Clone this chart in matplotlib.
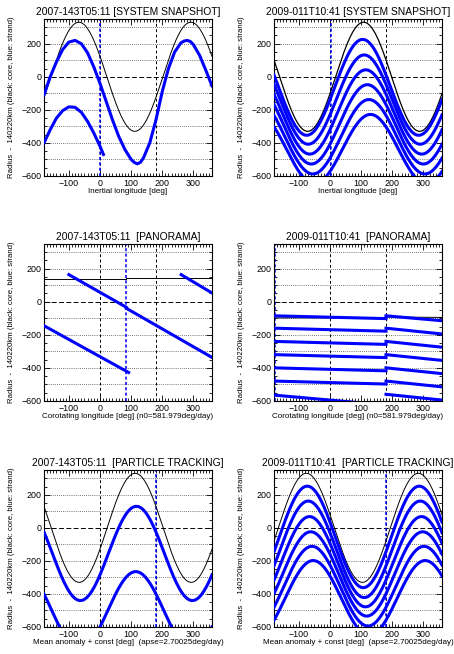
import numpy as np
import matplotlib
matplotlib.use('Agg')
import matplotlib.pyplot as plt
from matplotlib.ticker import MultipleLocator

plt.rcParams['font.family'] = ['Liberation Sans', 'DejaVu Sans']

XMIN, XMAX = -180, 360
YMIN, YMAX = -600, 350
BLUE = '#0000ff'

titles = ['2007-143T05:11 [SYSTEM SNAPSHOT]', '2009-011T10:41 [SYSTEM SNAPSHOT]',
          '2007-143T05:11  [PANORAMA]', '2009-011T10:41  [PANORAMA]',
          '2007-143T05:11  [PARTICLE TRACKING]', '2009-011T10:41  [PARTICLE TRACKING]']
xlabels = ['Inertial longitude [deg]', 'Inertial longitude [deg]',
           'Corotating longitude [deg] (n0=581.979deg/day)',
           'Corotating longitude [deg] (n0=581.979deg/day)',
           'Mean anomaly + const [deg]  (apse=2.70025deg/day)',
           'Mean anomaly + const [deg]  (apse=2.70025deg/day)']
ylabel = 'Radius  -  140220km (black: core, blue: strand)'

# blue dashed marker longitude per panel
marker_lon = [0, 3, 85, -177, 180, 180]

# --- system snapshot 2007: core epicycle (peak lon, peak, trough)
snap07_core = (-68, 330, -330)
# strand (lon, radius)
snap07_strand1_lon = [-180, -160, -140, -120, -100, -80, -60, -40, -20, 0, 20, 40, 60, 80,
                      100, 110, 120, 130, 140, 160, 180, 200, 220, 240, 260, 270, 280, 290,
                      300, 320, 340, 360]
snap07_strand1_r = [-110, 0, 90, 165, 210, 220, 200, 145, 60, -40, -150, -260, -360, -440,
                    -500, -518, -527, -518, -490, -400, -260, -90, 50, 150, 205, 216, 220, 214,
                    195, 130, 40, -55]
snap07_strand2_lon = [-180, -160, -140, -120, -100, -80, -60, -40, -20, 0, 11]
snap07_strand2_r = [-400, -320, -250, -205, -182, -185, -215, -270, -340, -420, -470]

# --- system snapshot 2009
snap09_core = (108, 330, -330)
snap09_peak_lon = [105, 110, 115, 120, 125, 130]
snap09_peak = [226, 132, 42, -48, -138, -228]
snap09_trough = [-354, -408, -468, -528, -588, -648]

# --- panorama 2007: segments (lon0, r0, lon1, r1)
pan07_core = [(-180, 138, 85, 138), (85, 145, 360, 145)]
pan07_strand = [(-100, 164, 85, -34), (85, -40, 360, -337),
                (-180, -145, 92, -428), (261, 164, 360, 53)]

# --- panorama 2009
pan09_core = [(-180, -98, 180, -96), (180, -92, 360, -95)]
pan09_start = [-85, -160, -240, -320, -400, -480, -565]
pan09_mid_left = [-102, -178, -258, -338, -418, -498, -625]
pan09_mid_right = [-85, -160, -240, -320, -400, -480, -560]
pan09_end = [-115, -195, -275, -355, -435, -515, -595]

# --- particle tracking 2007
track07_core = (113, 330, -330)
track07_peak_lon = [117, 115]
track07_peak = [130, -265]
track07_trough = [-440, -735]

# --- particle tracking 2009
track09_core = (-76, 330, -330)
track09_peak_lon = [-73, -70, -66, -62, -58, -54]
track09_peak = [252, 162, 68, -24, -112, -198]
track09_trough = [-362, -422, -478, -534, -594, -652]

lon = np.linspace(XMIN, XMAX, 1081)


def epicycle(peak_lon, peak, trough):
    mid = (peak + trough) / 2.0
    amp = (peak - trough) / 2.0
    return mid + amp * np.cos(np.radians(lon - peak_lon))


fig = plt.figure(figsize=(4.54, 6.54), dpi=100)
lefts = [44 / 454, 274 / 454]
bottoms = [0.731, 0.387, 0.0413]
W, H = 168 / 454, 157 / 654

axes = []
for r in range(3):
    for c in range(2):
        axes.append(fig.add_axes([lefts[c], bottoms[r], W, H]))

for i, ax in enumerate(axes):
    ax.set_xlim(XMIN, XMAX)
    ax.set_ylim(YMIN, YMAX)
    for g in [-500, -400, -300, -200, -100, 100, 200, 300]:
        ax.axhline(g, color='0.3', ls=(0, (1, 1.5)), lw=0.6, zorder=1)
    ax.axhline(0, color='k', ls=(0, (5, 2.5)), lw=0.7, zorder=1)
    ax.axvline(0, color='k', ls=(0, (3, 2.5)), lw=0.7, zorder=1)
    ax.axvline(180, color='k', ls=(0, (3, 2.5)), lw=0.7, zorder=1)
    ax.axvline(marker_lon[i], color=BLUE, ls=(0, (2, 1.5)), lw=1.1, zorder=2)

    ax.xaxis.set_major_locator(MultipleLocator(100))
    ax.xaxis.set_minor_locator(MultipleLocator(10))
    ax.yaxis.set_major_locator(MultipleLocator(200))
    ax.yaxis.set_minor_locator(MultipleLocator(50))
    ax.tick_params(which='both', direction='in', top=True, right=True,
                   labelsize=6.4, width=0.6, pad=2)
    ax.tick_params(which='major', length=4)
    ax.tick_params(which='minor', length=2)
    for s in ax.spines.values():
        s.set_linewidth(0.8)
    ax.set_title(titles[i], fontsize=7.4, pad=3)
    ax.set_xlabel(xlabels[i], fontsize=5.8, labelpad=0.5)
    ax.set_ylabel(ylabel, fontsize=5.6)
    ax.yaxis.set_label_coords(-0.175, 0.5)

# panel 1
ax = axes[0]
ax.plot(lon, epicycle(*snap07_core), color='k', lw=0.7, zorder=3)
ax.plot(snap07_strand1_lon, snap07_strand1_r, color=BLUE, lw=2.2, zorder=4)
ax.plot(snap07_strand2_lon, snap07_strand2_r, color=BLUE, lw=2.2, zorder=4)

# panel 2
ax = axes[1]
ax.plot(lon, epicycle(*snap09_core), color='k', lw=0.9, zorder=3)
for p, hi, lo in zip(snap09_peak_lon, snap09_peak, snap09_trough):
    ax.plot(lon, epicycle(p, hi, lo), color=BLUE, lw=2.2, zorder=4)

# panel 3
ax = axes[2]
for x0, y0, x1, y1 in pan07_core:
    ax.plot([x0, x1], [y0, y1], color='k', lw=0.7, zorder=3)
for x0, y0, x1, y1 in pan07_strand:
    ax.plot([x0, x1], [y0, y1], color=BLUE, lw=2.2, zorder=4)

# panel 4
ax = axes[3]
for x0, y0, x1, y1 in pan09_core:
    ax.plot([x0, x1], [y0, y1], color='k', lw=0.7, zorder=3)
for a, b, c, d in zip(pan09_start, pan09_mid_left, pan09_mid_right, pan09_end):
    ax.plot([XMIN, 180], [a, b], color=BLUE, lw=2.2, zorder=4)
    ax.plot([180, XMAX], [c, d], color=BLUE, lw=2.2, zorder=4)

# panel 5
ax = axes[4]
ax.plot(lon, epicycle(*track07_core), color='k', lw=0.7, zorder=3)
for p, hi, lo in zip(track07_peak_lon, track07_peak, track07_trough):
    ax.plot(lon, epicycle(p, hi, lo), color=BLUE, lw=2.2, zorder=4)

# panel 6
ax = axes[5]
ax.plot(lon, epicycle(*track09_core), color='k', lw=0.7, zorder=3)
for p, hi, lo in zip(track09_peak_lon, track09_peak, track09_trough):
    ax.plot(lon, epicycle(p, hi, lo), color=BLUE, lw=2.2, zorder=4)

fig.savefig('out.png', dpi=100)
